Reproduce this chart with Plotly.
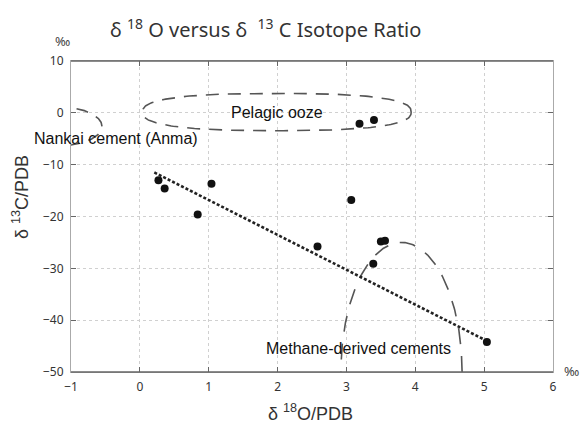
import numpy as np
import plotly.graph_objects as go

# Measured isotope ratios (per mil vs PDB)
d18O = [0.27, 0.36, 0.84, 1.04, 3.19, 3.40, 3.07, 2.58, 3.50, 3.56, 3.39, 5.04]
d13C = [-13.0, -14.6, -19.6, -13.7, -2.1, -1.4, -16.8, -25.8, -24.8, -24.7, -29.1, -44.2]

# Trend line end points
trend_x = [0.21, 4.98]
trend_y = [-11.5, -43.6]

# Field outlines: center x, center y, half-width, half-height, exponent
pelagic = dict(cx=1.99, cy=0.15, a=1.95, b=3.6, n=2.6)
nankai = dict(cx=-1.2, cy=-2.6, a=0.65, b=3.8, n=2.0)
methane = dict(cx=3.80, cy=-50.0, a=0.88, b=25.0, n=2.0)

x_ticks = [-1, 0, 1, 2, 3, 4, 5, 6]
y_ticks = [10, 0, -10, -20, -30, -40, -50]


def outline(cx, cy, a, b, n, t0=0.0, t1=2 * np.pi):
    t = np.linspace(t0, t1, 240)
    c, s = np.cos(t), np.sin(t)
    x = cx + a * np.sign(c) * np.abs(c) ** (2 / n)
    y = cy + b * np.sign(s) * np.abs(s) ** (2 / n)
    return x, y


fig = go.Figure()

px_, py_ = outline(**pelagic)
fig.add_trace(go.Scatter(x=px_, y=py_, mode="lines",
                         line=dict(color="#555", width=1.6, dash="13px,9px"),
                         hoverinfo="skip", showlegend=False))
nx_, ny_ = outline(**nankai)
fig.add_trace(go.Scatter(x=nx_, y=ny_, mode="lines",
                         line=dict(color="#555", width=1.6, dash="12px,9px"),
                         hoverinfo="skip", showlegend=False))
mx_, my_ = outline(**methane, t0=0.0, t1=np.pi)
fig.add_trace(go.Scatter(x=mx_, y=my_, mode="lines",
                         line=dict(color="#555", width=1.6, dash="16px,12px"),
                         hoverinfo="skip", showlegend=False))

fig.add_trace(go.Scatter(x=trend_x, y=trend_y, mode="lines",
                         line=dict(color="#222", width=2.6, dash="3px,2px"),
                         hoverinfo="skip", showlegend=False))

fig.add_trace(go.Scatter(x=d18O, y=d13C, mode="markers",
                         marker=dict(color="#111", size=8),
                         showlegend=False))

axis_common = dict(
    showgrid=True, gridcolor="#d0d0d0", griddash="dot", gridwidth=1,
    zeroline=False, showline=True, linecolor="#aaa", linewidth=1,
    mirror="ticks", ticks="inside", ticklen=5, tickcolor="#666",
    tickfont=dict(family="Noto Sans", size=12, color="#333"),
)

fig.update_xaxes(range=[-1, 6], tickvals=x_ticks, ticklabelstandoff=4, **axis_common)
fig.update_yaxes(range=[-50, 10], tickvals=y_ticks, ticklabelstandoff=4, **axis_common)

# darker top and bottom frame lines
fig.add_shape(type="line", xref="paper", yref="paper", x0=0, x1=1, y0=1, y1=1,
              line=dict(color="#666", width=1.5))
fig.add_shape(type="line", xref="paper", yref="paper", x0=0, x1=1, y0=0, y1=0,
              line=dict(color="#666", width=1.5))

W, H = 581, 426
L, R, T, B = 71, 28, 61, 54


def px_to_paper(x, y):
    return (x - L) / (W - L - R), (H - y - B) / (H - T - B)


label_font = dict(family="Liberation Sans, Arial", size=16, color="#111")
annotations = [
    dict(x=1.99, y=0.1, text="Pelagic ooze", xref="x", yref="y", font=label_font),
    dict(x=-0.34, y=-5.0, text="Nankai cement (Anma)", xref="x", yref="y", font=label_font),
    dict(x=3.17, y=-45.4, text="Methane-derived cements", xref="x", yref="y", font=label_font),
]

# page-positioned texts: (x px, y px from top, text, font, angle)
page_texts = [
    (265, 29, "δ <sup>18</sup> O versus δ &nbsp;<sup>13</sup> C Isotope Ratio",
     dict(family="Noto Sans", size=20, color="#333"), 0),
    (310, 412, "δ <sup>18</sup>O/PDB",
     dict(family="Liberation Sans, Arial", size=18, color="#333"), 0),
    (20, 197, "δ <sup>13</sup>C/PDB",
     dict(family="Liberation Sans, Arial", size=18, color="#333"), -90),
    (62, 41, "‰", dict(family="Noto Sans", size=13, color="#444"), 0),
    (571, 371, "‰", dict(family="Noto Sans", size=13, color="#444"), 0),
]
for x, y, text, font, angle in page_texts:
    xp, yp = px_to_paper(x, y)
    annotations.append(dict(x=xp, y=yp, xref="paper", yref="paper", text=text,
                            font=font, textangle=angle))

for ann in annotations:
    ann.update(showarrow=False, xanchor="center", yanchor="middle")

fig.update_layout(
    width=W, height=H,
    margin=dict(l=L, r=R, t=T, b=B),
    paper_bgcolor="white", plot_bgcolor="white",
    annotations=annotations,
)

fig.write_html("out.html")
